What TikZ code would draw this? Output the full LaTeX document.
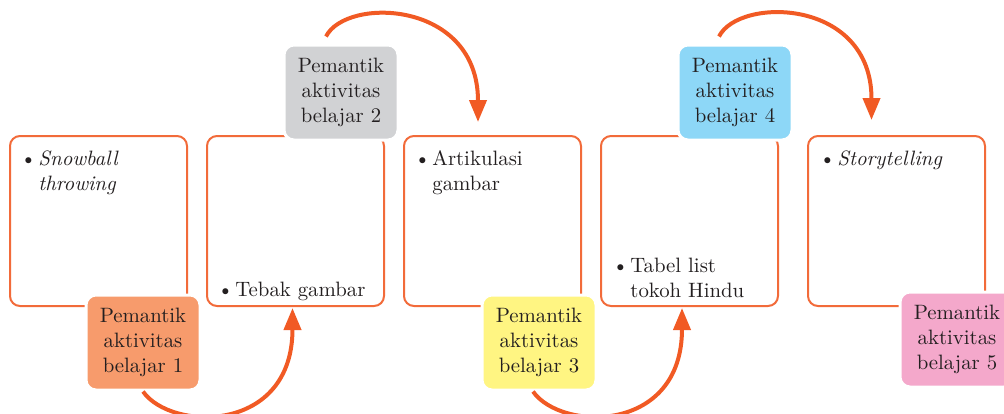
\documentclass[tikz,border=0pt]{standalone}
\usepackage{xcolor}
\usepackage{tikz}
\usetikzlibrary{arrows.meta,positioning,calc}
\definecolor{FlowOrange}{HTML}{F15A24}
\definecolor{BoxEdge}{HTML}{F26B3A}
\definecolor{InkGray}{HTML}{231F20}
\definecolor{TagOrange}{HTML}{F79B6C}
\definecolor{TagGray}{HTML}{D1D2D4}
\definecolor{TagYellow}{HTML}{FFF582}
\definecolor{TagBlue}{HTML}{8DD7F7}
\definecolor{TagPink}{HTML}{F4A8CB}
\newcommand{\bul}[1]{\makebox[9pt][l]{\textbullet}\parbox[t]{74pt}{\raggedright #1}}

\begin{document}
\begin{tikzpicture}[
  x=0.5pt, y=-0.5pt,
  node distance=10pt,
  font=\fontsize{10.4}{12.5}\selectfont,
  box/.style={draw=BoxEdge, line width=1pt, rounded corners=5pt, fill=white, minimum width=88.5pt, minimum height=85pt, inner sep=0pt, outer sep=0pt},
  tag/.style={fill=#1, draw=white, line width=1.5pt, rounded corners=5pt, minimum width=57pt, minimum height=47.5pt, inner sep=0pt, align=center, text=InkGray},
  itm/.style={inner sep=0pt, text=InkGray, anchor=base west},
  arr/.style={-{Triangle[length=11pt,width=8.5pt]}, line width=2pt, draw=FlowOrange}
]
\useasboundingbox (0,0) rectangle (1004,413);
% activity boxes
\node[box] (b1) at (98.5,221) {};
\node[box, right=of b1] (b2) {};
\node[box, right=of b2] (b3) {};
\node[box, right=of b3] (b4) {};
\node[box, right=15pt of b4] (b5) {};
% box contents
\node[itm] (b1txt) at ([shift={(5pt,-14.5pt)}]b1.north west) {\bul{\textit{Snowball}\\\textit{throwing}}};
\node[itm] (b2txt) at ([shift={(5pt,5pt)}]b2.south west) {\bul{Tebak gambar}};
\node[itm] (b3txt) at ([shift={(5pt,-14.5pt)}]b3.north west) {\bul{Artikulasi\\gambar}};
\node[itm] (b4txt) at ([shift={(5.5pt,17pt)}]b4.south west) {\bul{Tabel list\\tokoh Hindu}};
\node[itm] (b5txt) at ([shift={(5.5pt,-14.5pt)}]b5.north west) {\bul{\textit{Storytelling}}};
% tags
\node[tag=TagOrange] (t1) at ([shift={(-22pt,-18.25pt)}]b1.south east) {Pemantik\\aktivitas\\belajar 1};
\node[tag=TagGray] (t2) at ([shift={(-21.5pt,21.75pt)}]b2.north east) {Pemantik\\aktivitas\\belajar 2};
\node[tag=TagYellow] (t3) at ([shift={(-21pt,-18.25pt)}]b3.south east) {Pemantik\\aktivitas\\belajar 3};
\node[tag=TagBlue] (t4) at ([shift={(-21.5pt,21.75pt)}]b4.north east) {Pemantik\\aktivitas\\belajar 4};
\node[tag=TagPink] (t5) at ([shift={(-14pt,-16.75pt)}]b5.south east) {Pemantik\\aktivitas\\belajar 5};
% flow arrows
\draw[arr] (t1.south) .. controls +(28,40) and +(0,126) .. ([shift={(-1.5pt,-1pt)}]b2.south);
\draw[arr] ([shift={(-7.5pt,3.5pt)}]t2.north) .. controls +(20,-40) and +(0,-122) .. ([shift={(-7.25pt,7pt)}]b3.north);
\draw[arr] ([xshift=-3pt]t3.south) .. controls +(28,40) and +(0,126) .. ([shift={(-3.75pt,-1pt)}]b4.south);
\draw[arr] ([shift={(-8pt,3.5pt)}]t4.north) .. controls +(20,-40) and +(0,-122) .. ([shift={(-12.5pt,8pt)}]b5.north);
\end{tikzpicture}
\end{document}
